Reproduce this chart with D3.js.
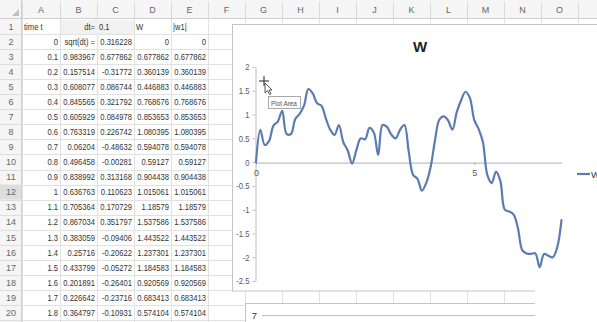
<!DOCTYPE html>
<html>
<head>
<meta charset="utf-8">
<script src="https://cdn.jsdelivr.net/npm/d3@7"></script>
<style>
  html, body { margin: 0; padding: 0; background: #fff; }
  svg { display: block; }
  .cell { font-family: "Liberation Sans", Arial, sans-serif; font-size: 9.5px; fill: #333; }
  .hdr { font-family: "Liberation Sans", Arial, sans-serif; font-size: 9px; fill: #666; }
  .axis text { font-family: "Liberation Sans", Arial, sans-serif; font-size: 9px; fill: #595959; }
</style>
</head>
<body>
<svg id="sheet" width="597" height="322"></svg>
<script>
// ---- sheet data ----
const dt = 0.1;
const timeT = [0, 0.1, 0.2, 0.3, 0.4, 0.5, 0.6, 0.7, 0.8, 0.9, 1, 1.1, 1.2, 1.3, 1.4, 1.5, 1.6, 1.7, 1.8];
const uniformB = [0.983967, 0.157514, 0.608077, 0.845565, 0.605929, 0.763319, 0.06204, 0.496458, 0.838992,
  0.636763, 0.705364, 0.867034, 0.383059, 0.25716, 0.433799, 0.201891, 0.226642, 0.364797];
const sqrtDt = 0.316228;
const incrementC = [0.677862, -0.31772, 0.086744, 0.321792, 0.084978, 0.226742, -0.48632, -0.00281, 0.313168,
  0.110623, 0.170729, 0.351797, -0.09406, -0.20622, -0.05272, -0.26401, -0.23716, -0.10931];
// W path, one value per time step dt
const wSeries = [0, 0.677862, 0.360139, 0.446883, 0.768676, 0.853653, 1.080395, 0.594078, 0.59127, 0.904438,
  1.015061, 1.18579, 1.537586, 1.443522, 1.237301, 1.184583, 0.920569, 0.683413, 0.574104,
  0.78, 0.42, 0.25, -0.03, 0.25, 0.50, 0.48, 0.72, 0.62, 0.15, 0.78,
  0.74, 0.58, 0.50, 0.68, 0.78, 0.22, -0.27, -0.35, -0.60, -0.44,
  -0.11, 0.45, 0.89, 0.96, 0.88, 0.68, 1.05, 1.30, 1.48, 1.35,
  0.89, 0.70, 0.42, -0.27, -0.44, -0.20, -0.40, -1.00, -1.04, -1.10,
  -1.38, -1.85, -1.92, -1.93, -1.92, -2.21, -1.93, -1.97, -2.00, -1.80, -1.22];
const yTicks = [-2.5, -2, -1.5, -1, -0.5, 0, 0.5, 1, 1.5, 2];
const xTicks = [0, 5];
const colLetters = ["A","B","C","D","E","F","G","H","I","J","K","L","M","N","O"];

// ---- grid geometry ----
const W = 597, H = 322;
const headH = 19, rowH = 15.05, rowHeadW = 22;
const colEdges = [22, 60, 97, 134, 171, 208, 245, 282, 319, 356, 393, 430, 467, 504, 541, 578, 615];
const rowTop = r => headH + (r - 1) * rowH;
const rowMid = r => rowTop(r) + rowH / 2 + 3.3;
const squeeze = 0.8;   // condensed look for sheet text

function condense(sel, k) {
  sel.each(function () {
    const w = this.getComputedTextLength();
    if (w > 0) d3.select(this).attr("textLength", w * k).attr("lengthAdjust", "spacingAndGlyphs");
  });
}

const svg = d3.select("#sheet");
svg.append("rect").attr("width", W).attr("height", H).attr("fill", "#fff");

// cell gridlines
const grid = svg.append("g").attr("stroke", "#e1e1e1").attr("stroke-width", 1);
colEdges.forEach(x => grid.append("line").attr("x1", x + 0.5).attr("x2", x + 0.5).attr("y1", headH).attr("y2", H));
d3.range(1, 21).forEach(r => grid.append("line").attr("x1", rowHeadW).attr("x2", W)
  .attr("y1", Math.round(rowTop(r + 1)) + 0.5).attr("y2", Math.round(rowTop(r + 1)) + 0.5));

// light fill on B1:C1
svg.append("rect").attr("x", colEdges[1] + 1).attr("y", rowTop(1) + 1)
  .attr("width", colEdges[3] - colEdges[1] - 1).attr("height", rowH - 1).attr("fill", "#f1f1f1");

// column header band
svg.append("rect").attr("width", W).attr("height", headH).attr("fill", "#f5f5f5");
svg.append("line").attr("x1", 0).attr("x2", W).attr("y1", headH - 0.5).attr("y2", headH - 0.5).attr("stroke", "#cfcfcf");
colEdges.forEach((x, i) => {
  svg.append("line").attr("x1", x + 0.5).attr("x2", x + 0.5).attr("y1", 2).attr("y2", headH)
    .attr("stroke", "#dadada");
  if (i < colLetters.length) {
    svg.append("text").attr("class", "hdr").attr("x", (x + colEdges[i + 1]) / 2).attr("y", 13)
      .attr("text-anchor", "middle").text(colLetters[i]);
  }
});
// select-all corner
svg.append("polygon").attr("points", "12,16 19,16 19,9").attr("fill", "#c0c0c0");

// row header band
svg.append("rect").attr("x", 0).attr("y", headH).attr("width", rowHeadW).attr("height", H - headH).attr("fill", "#f5f5f5");
svg.append("rect").attr("x", 0).attr("y", rowTop(12)).attr("width", rowHeadW).attr("height", rowH).attr("fill", "#dcdedc");
svg.append("line").attr("x1", rowHeadW - 0.5).attr("x2", rowHeadW - 0.5).attr("y1", 0).attr("y2", H).attr("stroke", "#cfcfcf");
d3.range(1, 21).forEach(r => {
  svg.append("line").attr("x1", 0).attr("x2", rowHeadW).attr("y1", Math.round(rowTop(r + 1)) + 0.5)
    .attr("y2", Math.round(rowTop(r + 1)) + 0.5).attr("stroke", "#dedede");
  svg.append("text").attr("class", "hdr").attr("x", 11).attr("y", rowMid(r))
    .attr("text-anchor", "middle").attr("fill", r === 12 ? "#3a3a3a" : "#666").text(r);
});

// cell text
const cells = svg.append("g");
function cell(col, row, txt, align) {
  const left = colEdges[col], right = colEdges[col + 1];
  cells.append("text").attr("class", "cell")
    .attr("x", align === "left" ? left + 2 : right - 2)
    .attr("y", rowMid(row))
    .attr("text-anchor", align === "left" ? "start" : "end")
    .text(txt);
}
cell(0, 1, "time t", "left");
cell(1, 1, "dt=", "right");
cell(2, 1, String(dt), "left");
cell(3, 1, "W", "left");
cell(4, 1, "|w1|", "left");
cell(1, 2, "sqrt(dt) =", "right");
cell(2, 2, String(sqrtDt), "right");
timeT.forEach((t, i) => {
  const row = i + 2;
  cell(0, row, String(t), "right");
  if (i > 0) {
    cell(1, row, String(uniformB[i - 1]), "right");
    cell(2, row, String(incrementC[i - 1]), "right");
  }
  cell(3, row, String(wSeries[i]), "right");
  cell(4, row, String(Math.abs(wSeries[i])), "right");
});
condense(cells.selectAll("text"), squeeze);

// ---- chart "W" ----
const chart = svg.append("g");
chart.append("rect").attr("x", 232.5).attr("y", 24.5).attr("width", 420).attr("height", 266.5)
  .attr("fill", "#fff").attr("stroke", "#c4c4c4");

chart.append("text").attr("x", 420).attr("y", 52).attr("text-anchor", "middle")
  .attr("font-family", "Liberation Sans, Arial, sans-serif").attr("font-weight", "bold")
  .attr("font-size", 15).attr("fill", "#222").text("W");

const x = d3.scaleLinear().domain([0, 7]).range([256, 561.5]);
const y = d3.scaleLinear().domain([-2.5, 2]).range([281, 67]);

const yAxis = chart.append("g").attr("class", "axis").attr("transform", "translate(255.5,0)")
  .call(d3.axisLeft(y).tickValues(yTicks).tickSize(3).tickSizeOuter(0).tickFormat(d => String(d)));
yAxis.selectAll("path, line").attr("stroke", "#bfbfbf");
condense(yAxis.selectAll("text"), 0.85);

const xAxis = chart.append("g").attr("class", "axis").attr("transform", `translate(0,${y(0) + 0.5})`)
  .call(d3.axisBottom(x).tickValues(xTicks).tickSize(2).tickSizeOuter(0).tickFormat(d => String(d)));
xAxis.select(".domain").attr("stroke", "#bfbfbf").attr("stroke-width", 1.3);
xAxis.selectAll("line").attr("stroke", "#a0a0a0");
xAxis.selectAll("text").attr("dy", "0.95em");

const line = d3.line()
  .x((d, i) => x(i * dt))
  .y(d => y(d))
  .curve(d3.curveCatmullRom.alpha(0.5));
chart.append("path").datum(wSeries).attr("d", line)
  .attr("fill", "none").attr("stroke", "#5b7cae").attr("stroke-width", 2.2)
  .attr("stroke-linejoin", "round").attr("stroke-linecap", "round");

// legend (runs past the window edge)
chart.append("line").attr("x1", 577).attr("x2", 590).attr("y1", 174).attr("y2", 174)
  .attr("stroke", "#5b7cae").attr("stroke-width", 2.2);
chart.append("text").attr("class", "cell").attr("x", 591).attr("y", 177.5).attr("fill", "#444").text("W");

// pointer + tooltip over the plot area
const cur = chart.append("g").attr("transform", "translate(264,81)").attr("stroke", "#333").attr("stroke-width", 1.1);
cur.append("line").attr("x1", -5).attr("x2", 5).attr("y1", 0).attr("y2", 0);
cur.append("line").attr("x1", 0).attr("x2", 0).attr("y1", -5).attr("y2", 5);
chart.append("path").attr("d", "M265,83 L265,93 L267.5,90.5 L269.5,94.5 L271,93.8 L269,90 L272,90 Z")
  .attr("fill", "#fff").attr("stroke", "#333").attr("stroke-width", 0.8);
chart.append("rect").attr("x", 268.5).attr("y", 96.5).attr("width", 32).attr("height", 12)
  .attr("fill", "#fcfcfc").attr("stroke", "#a8a8a8");
const tip = chart.append("text").attr("x", 271).attr("y", 105.5).attr("font-family", "Liberation Sans, sans-serif")
  .attr("font-size", 7.5).attr("fill", "#555").text("Plot Area");
condense(tip, 0.85);

// second chart peeking below
const c2 = svg.append("g");
c2.append("rect").attr("x", 245.5).attr("y", 303.5).attr("width", 293).attr("height", 40)
  .attr("fill", "#fff").attr("stroke", "#c4c4c4");
c2.append("text").attr("class", "cell").attr("x", 257).attr("y", 319).attr("text-anchor", "end").attr("fill", "#595959").text("7");
c2.append("line").attr("x1", 262).attr("x2", 537).attr("y1", 315.5).attr("y2", 315.5).attr("stroke", "#bfbfbf");

// washed-out lower right corner
svg.append("rect").attr("x", 535).attr("y", 270).attr("width", 62).attr("height", 52).attr("fill", "#fff");
</script>
</body>
</html>
